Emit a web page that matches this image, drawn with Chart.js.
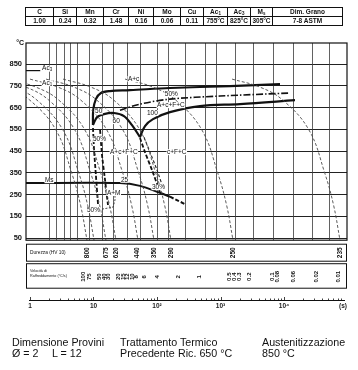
<!DOCTYPE html>
<html>
<head>
<meta charset="utf-8">
<script src="https://cdn.jsdelivr.net/npm/chart.js@4.4.1/dist/chart.umd.min.js"></script>
<style>
  body { margin: 0; background: #fff; width: 358px; height: 370px; overflow: hidden; position: relative;
         font-family: "Liberation Sans", Arial, sans-serif; color: #111; }
  #cct { position: absolute; left: 0; top: 0; }
  table.comp { position: absolute; left: 25px; top: 7px; border-collapse: collapse; table-layout: fixed;
               width: 317px; font-size: 6.5px; font-weight: bold; z-index: 2; }
  table.comp td { border: 1px solid #111; text-align: center; height: 8px; line-height: 8px; padding: 0; white-space: nowrap; }
  table.comp sub { font-size: 4.5px; line-height: 0; vertical-align: -1px; }
  .info { position: absolute; font-size: 10.7px; line-height: 11px; white-space: pre; z-index: 2; }
</style>
</head>
<body>
<table class="comp" id="comp"></table>
<canvas id="cct" width="358" height="370"></canvas>

<div class="info" style="left:12px;top:337px">Dimensione Provini</div>
<div class="info" style="left:12px;top:348px">Ø = 2</div>
<div class="info" style="left:52px;top:348px">L = 12</div>
<div class="info" style="left:120px;top:337px">Trattamento Termico</div>
<div class="info" style="left:120px;top:348px">Precedente</div>
<div class="info" style="left:178px;top:348px">Ric. 650 °C</div>
<div class="info" style="left:262px;top:337px">Austenitizzazione</div>
<div class="info" style="left:262px;top:348px">850 °C</div>

<script>
// composition table
var compHead = ['C', 'Si', 'Mn', 'Cr', 'Ni', 'Mo', 'Cu', 'Ac<sub>1</sub>', 'Ac<sub>3</sub>', 'M<sub>s</sub>', 'Dim. Grano'];
var compValues = ['1.00', '0.24', '0.32', '1.48', '0.16', '0.06', '0.11', '755°C', '825°C', '305°C', '7-8 ASTM'];
var compWidths = [28, 23, 27, 25, 25, 27, 23, 24, 23, 22, 70];

// axis ticks
var tempTicks = [50, 150, 250, 350, 450, 550, 650, 750, 850];
var timeTicks = [1, 10, 100, 1000, 10000, 85000];
var timeTickLabels = ['1', '10', '10²', '10³', '10⁴', '(s)'];
var gridTimes = [2, 2.57, 3.43, 4.27, 5.5, 8.5, 13.6, 20.3, 33.7, 54, 100, 149, 276, 570, 849, 1690, 3250, 6710, 13900, 27600, 51200];
var plotTop = 947, plotBottom = 40;

// cooling curves: temperatures read along each curve, and the times (s) at those temperatures
var coolTemps = [781, 744, 684, 547, 349, 200, 40];
var cool800 = [0.158, 0.435, 0.995, 2.56, 4.54, 6.27, 7.9];
var cool75 = [0.203, 0.561, 1.29, 3.3, 5.87, 8.1, 10.2];
var cool675 = [0.313, 0.864, 1.98, 5.08, 9.03, 12.5, 15.7];
var cool620 = [0.451, 1.24, 2.85, 7.31, 13.0, 17.9, 22.6];
var cool440 = [1.0, 2.76, 6.33, 16.2, 28.9, 39.9, 50.2];
var cool350 = [1.79, 4.93, 11.3, 29.0, 51.6, 71.2, 89.7];
var cool290 = [3.31, 9.13, 20.9, 53.7, 95.5, 132, 166];
var cool250 = [31.4, 86.6, 198, 509, 905, 1250, 1574];
var cool235 = [1520, 4190, 9600, 24700, 43800, 60500, 76200];

// transformation lines
var startTime = [9.8, 9.9, 10.9, 13.1, 18.2, 37.6, 160, 1410, 8650];
var startTemp = [570, 638, 689, 717, 726, 730, 740, 749, 758];
var humpTime = [9.8, 11.4, 14.6, 21.0, 30.2, 40.4, 54];
var humpTemp = [570, 606, 620, 625, 611, 569, 514];
var endTime = [54, 64.7, 86.5, 160, 475, 2030, 14900];
var endTemp = [514, 565, 597, 629, 657, 666, 684];
var halfTime = [26.1, 54, 160, 982, 12400];
var halfTemp = [638, 666, 689, 703, 717];
var bain1Time = [9.82, 10.2, 10.9, 11.8];
var bain1Temp = [556, 455, 340, 202];
var bain2Time = [12.7, 13.6, 15.2, 16.9];
var bain2Temp = [547, 432, 317, 202];
var bain3Time = [54, 64.7, 83.4, 111];
var bain3Temp = [510, 445, 363, 262];
var bain4Time = [62.4, 77.6, 100, 128];
var bain4Temp = [514, 445, 363, 271];
var msTime = [0.86, 26.1, 54, 111, 160];
var msTemp = [303, 303, 290, 258, 240];
var msTailTime = [160, 276];
var msTailTemp = [240, 206];
var bracketTime = [13.6, 20.3, 21.8, 21.8];
var bracketTemp = [183, 192, 225, 257];
var ac3Time = [0.86, 1.45];
var ac3Temp = [820, 820];

// labels inside the diagram
var zoneText = ['Ac3', 'Ac1', 'A+c', '50%', 'A+c+F+C', '50', '60', '100', '50%', 'A+c+F+C', 'c+F+C', 'Ms', '25', '30%', 'A+M', '50%'];
var zoneTime = [1.55, 1.55, 34.9, 133, 100, 10.6, 20, 69.6, 9.8, 18.2, 144, 1.72, 27, 83.4, 16.3, 7.9];
var zoneTemp = [829, 762, 781, 712, 661, 632, 588, 625, 505, 445, 445, 316, 318, 284, 257, 179];

// hardness and cooling rate rows
var hardTime = [7.98, 15.6, 22.4, 49.3, 89.7, 166, 1574, 76200];
var hardLabels = ['800', '675', '620', '440', '350', '290', '250', '235'];
var rateTime = [6.83, 8.71, 12.4, 14.6, 17.2, 24.8, 29.1, 34.3, 40.4, 47.5, 62.4, 100, 220, 459, 1361, 1632, 1991, 2863, 6590, 7900, 13860, 31900, 70800];
var rateLabels = ['100', '75', '50', '40', '30', '20', '15', '12', '10', '8', '6', '4', '2', '1', '0.5', '0.4', '0.3', '0.2', '0.1', '0.08', '0.06', '0.02', '0.01'];

// build the composition table
var tbl = document.getElementById('comp');
var cg = '<colgroup>' + compWidths.map(function (w) { return '<col style="width:' + w + 'px">'; }).join('') + '</colgroup>';
tbl.innerHTML = cg + '<tr>' + compHead.map(function (h) { return '<td>' + h + '</td>'; }).join('') + '</tr>' +
  '<tr>' + compValues.map(function (v) { return '<td>' + v + '</td>'; }).join('') + '</tr>';

var FONT = '"Liberation Sans", Arial, sans-serif';

function pts(ts, Ts) {
  return ts.map(function (t, i) { return { x: t, y: Ts[i] }; });
}

var thin = { borderColor: '#4a4a4a', borderWidth: 0.9, borderDash: [3, 2], tension: 0.4 };
var thick = { borderColor: '#111', borderWidth: 2.2, tension: 0.35 };
var dashThick = { borderColor: '#111', borderWidth: 1.8, borderDash: [4, 2], tension: 0.2 };

function line(ts, Ts, style) {
  return Object.assign({ data: pts(ts, Ts), showLine: true, pointRadius: 0, fill: false }, style);
}

var datasets = [];
[cool800, cool75, cool675, cool620, cool440, cool350, cool290, cool250, cool235].forEach(function (c) {
  datasets.push(line(c, coolTemps, thin));
});
datasets.push(line(ac3Time, ac3Temp, { borderColor: '#111', borderWidth: 1.2, tension: 0 }));
datasets.push(line(startTime, startTemp, thick));
datasets.push(line(humpTime, humpTemp, thick));
datasets.push(line(endTime, endTemp, thick));
datasets.push(line(halfTime, halfTemp, { borderColor: '#111', borderWidth: 1.6, borderDash: [7, 2, 1.5, 2], tension: 0.3 }));
datasets.push(line(bain1Time, bain1Temp, dashThick));
datasets.push(line(bain2Time, bain2Temp, dashThick));
datasets.push(line(bain3Time, bain3Temp, dashThick));
datasets.push(line(bain4Time, bain4Temp, { borderColor: '#222', borderWidth: 1.1, borderDash: [3, 2], tension: 0.2 }));
datasets.push(line(msTime, msTemp, { borderColor: '#111', borderWidth: 2, tension: 0.3 }));
datasets.push(line(msTailTime, msTailTemp, { borderColor: '#111', borderWidth: 2, borderDash: [4, 2], tension: 0 }));
datasets.push(line(bracketTime, bracketTemp, { borderColor: '#333', borderWidth: 0.9, borderDash: [2, 1.5], tension: 0 }));

function drawLabel(ctx, str, px, py) {
  var m = /^(Ac)(\d)$/.exec(str);
  ctx.font = '6.5px ' + FONT;
  var w = ctx.measureText(m ? m[1] : str).width;
  ctx.fillStyle = '#fff';
  ctx.fillRect(px - 0.5, py - 3, w + (m ? 4 : 1), 6);
  ctx.fillStyle = '#111';
  ctx.textAlign = 'left';
  ctx.textBaseline = 'middle';
  if (m) {
    ctx.fillText(m[1], px, py);
    ctx.font = '4.5px ' + FONT;
    ctx.fillText(m[2], px + w, py + 1.5);
  } else {
    ctx.fillText(str, px, py);
  }
}

function vText(ctx, str, px, py, font) {
  ctx.save();
  ctx.translate(px, py);
  ctx.rotate(-Math.PI / 2);
  ctx.font = font;
  ctx.textAlign = 'center';
  ctx.textBaseline = 'middle';
  ctx.fillText(str, 0, 0);
  ctx.restore();
}

var cctPlugin = {
  id: 'cct',
  beforeDatasetsDraw: function (chart) {
    var ctx = chart.ctx, x = chart.scales.x, y = chart.scales.y;
    var top = y.getPixelForValue(plotTop), bottom = y.getPixelForValue(plotBottom);
    ctx.save();
    ctx.strokeStyle = '#3a3a3a';
    ctx.lineWidth = 0.8;
    gridTimes.forEach(function (t) {
      var px = Math.round(x.getPixelForValue(t)) + 0.5;
      ctx.beginPath();
      ctx.moveTo(px, top);
      ctx.lineTo(px, bottom);
      ctx.stroke();
    });
    ctx.restore();
  },
  afterDatasetsDraw: function (chart) {
    var ctx = chart.ctx, a = chart.chartArea, x = chart.scales.x, y = chart.scales.y;
    var L = a.left, R = a.right;
    var top = y.getPixelForValue(plotTop), bottom = y.getPixelForValue(plotBottom);
    ctx.save();
    // frame of the diagram
    ctx.strokeStyle = '#111';
    ctx.lineWidth = 1.2;
    ctx.strokeRect(L, top, R - L, bottom - top);
    // hardness and cooling-rate boxes
    var b1 = [bottom + 4, bottom + 21], b2 = [bottom + 23.5, bottom + 48];
    ctx.lineWidth = 1;
    ctx.strokeRect(L + 0.5, b1[0], R - L - 1, b1[1] - b1[0]);
    ctx.strokeRect(L + 0.5, b2[0], R - L - 1, b2[1] - b2[0]);

    // diagram labels
    zoneText.forEach(function (s, i) {
      drawLabel(ctx, s, x.getPixelForValue(zoneTime[i]), y.getPixelForValue(zoneTemp[i]));
    });
    ctx.fillStyle = '#111';
    ctx.font = 'bold 7px ' + FONT;
    ctx.textAlign = 'right';
    ctx.textBaseline = 'middle';
    ctx.fillText('°C', L - 2, top);

    // box texts
    ctx.textAlign = 'left';
    ctx.font = '4.8px ' + FONT;
    ctx.fillText('Durezza (HV 10)', L + 4, (b1[0] + b1[1]) / 2);
    ctx.font = '3.7px ' + FONT;
    ctx.fillText('Velocità di', L + 4, b2[0] + 7);
    ctx.fillText('Raffreddamento (°C/s)', L + 4, b2[0] + 12);
    hardLabels.forEach(function (s, i) {
      vText(ctx, s, x.getPixelForValue(hardTime[i]), (b1[0] + b1[1]) / 2, 'bold 6.5px ' + FONT);
    });
    rateLabels.forEach(function (s, i) {
      vText(ctx, s, x.getPixelForValue(rateTime[i]), b2[0] + 13, 'bold 6px ' + FONT);
    });

    // time axis
    var ay = Math.round(a.bottom) + 0.5;
    ctx.strokeStyle = '#111';
    ctx.lineWidth = 1;
    ctx.beginPath();
    ctx.moveTo(x.getPixelForValue(1) - 1, ay);
    ctx.lineTo(R - 2, ay);
    ctx.stroke();
    ctx.lineWidth = 0.8;
    for (var d = 1; d <= 10000; d *= 10) {
      for (var k = 1; k <= 9; k++) {
        var px = Math.round(x.getPixelForValue(k * d)) + 0.5;
        if (px > R - 2) continue;
        ctx.beginPath();
        ctx.moveTo(px, ay);
        ctx.lineTo(px, ay - (k === 1 ? 3.5 : 2));
        ctx.stroke();
      }
    }
    ctx.restore();
  }
};

new Chart(document.getElementById('cct'), {
  type: 'scatter',
  data: { datasets: datasets },
  options: {
    responsive: false,
    animation: false,
    events: [],
    layout: { padding: { left: 0, right: 11, top: 43, bottom: 51 } },
    plugins: { legend: { display: false }, tooltip: { enabled: false } },
    scales: {
      x: {
        type: 'logarithmic', min: 0.865, max: 98200,
        afterBuildTicks: function (s) { s.ticks = timeTicks.map(function (v) { return { value: v }; }); },
        afterFit: function (s) { s.height = 19; },
        grid: { display: false, drawTicks: false },
        border: { display: false },
        ticks: {
          autoSkip: false, maxRotation: 0, padding: 2, color: '#222',
          font: { family: FONT, size: 6.5, weight: 'bold' },
          callback: function (v, i) { return timeTickLabels[i]; }
        }
      },
      y: {
        type: 'linear', min: -235, max: 947,
        afterBuildTicks: function (s) { s.ticks = tempTicks.map(function (v) { return { value: v }; }); },
        afterFit: function (s) { s.width = 26; },
        grid: { color: '#222', lineWidth: 1, drawTicks: false },
        border: { display: false },
        ticks: {
          padding: 4, color: '#111',
          font: { family: FONT, size: 7.5, weight: 'bold' },
          callback: function (v) { return String(v); }
        }
      }
    }
  },
  plugins: [cctPlugin]
});
</script>
</body>
</html>
